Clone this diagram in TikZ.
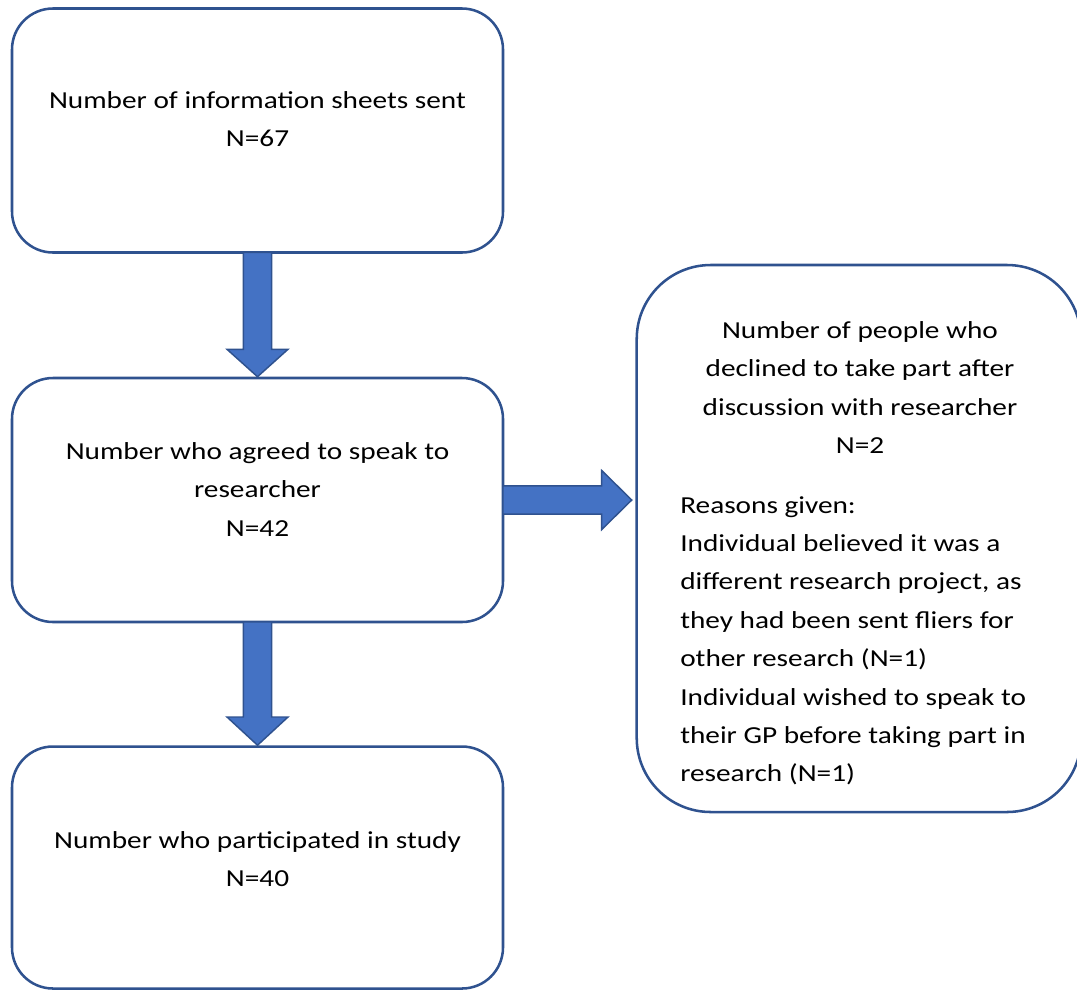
\documentclass[tikz,border=0pt]{standalone}
\usepackage{fontspec}
\setmainfont{Carlito}[FakeStretch=1.2]
\usetikzlibrary{calc}

\definecolor{boxline}{HTML}{2F528F}
\definecolor{arrowfill}{HTML}{4472C4}

\tikzset{
  flowbox/.style={draw=boxline, line width=1.9pt, rounded corners=30.75pt,
    outer sep=0pt, inner sep=0pt, minimum width=368.25pt, minimum height=183pt},
  flowtext/.style={align=center, inner sep=0pt,
    font=\fontsize{18.3}{28.8}\selectfont},
  blockarrow/.style={fill=arrowfill, draw=boxline, line width=1.1pt, line join=miter}
}

\begin{document}
\begin{tikzpicture}[x=0.75pt,y=-0.75pt]
    \useasboundingbox (0,0) rectangle (1077,990);
    % Boxes
    \node[flowbox] (sent) at (257.5,130.5) {};
    \node[flowbox] (agreed) at (257.5,500) {};
    \node[flowbox, minimum height=181.5pt] (part) at (257.5,867.5) {};
    \node[flowbox, minimum width=333.2pt, minimum height=410.25pt,
        rounded corners=55.5pt] (declined) at (858.85,538.5) {};
    % Texts
    \node[flowtext] (senttext) at (257.5,119.8)
        {\strut Number of information sheets sent\\\strut N=67};
    \node[flowtext] (agreedtext) at (257.5,490.3)
        {\strut Number who agreed to speak to\\\strut researcher\\\strut N=42};
    \node[flowtext] (parttext) at (257.5,859.8)
        {\strut Number who participated in study\\\strut N=40};
    \node[flowtext] (declinedtext) at (860,388.2)
        {\strut Number of people who\\\strut declined to take part after\\
         \strut discussion with researcher\\\strut N=2};
    \node[flowtext, align=left, anchor=west] (reasons) at (680,639.8)
        {\strut Reasons given:\\
         \strut Individual believed it was a\\
         \strut different research project, as\\
         \strut they had been sent fliers for\\
         \strut other research (N=1)\\
         \strut Individual wished to speak to\\
         \strut their GP before taking part in\\
         \strut research (N=1)};
    % Block arrows
    \draw[blockarrow] ($(sent.south)+(-14.2,0)$) -- ($(agreed.north)+(-14.2,-28.7)$)
        -- ++(-16.3,0) -- ($(agreed.north)+(0,-1.3)$) -- ($(agreed.north)+(30.5,-28.7)$)
        -- ++(-16.3,0) -- ($(sent.south)+(14.2,0)$) -- cycle;
    \draw[blockarrow] ($(agreed.south)+(-14.2,0)$) -- ($(part.north)+(-14.2,-29.5)$)
        -- ++(-16.3,0) -- ($(part.north)+(0,-1.3)$) -- ($(part.north)+(30.5,-29.5)$)
        -- ++(-16.3,0) -- ($(agreed.south)+(14.2,0)$) -- cycle;
    \draw[blockarrow] ($(agreed.east)+(0,-14.2)$) -- ($(agreed.east -| declined.west)+(-35,-14.2)$)
        -- ++(0,-15.3) -- ($(agreed.east -| declined.west)+(-5,0)$)
        -- ($(agreed.east -| declined.west)+(-35,29.5)$) -- ++(0,-15.3)
        -- ($(agreed.east)+(0,14.2)$) -- cycle;
\end{tikzpicture}
\end{document}
